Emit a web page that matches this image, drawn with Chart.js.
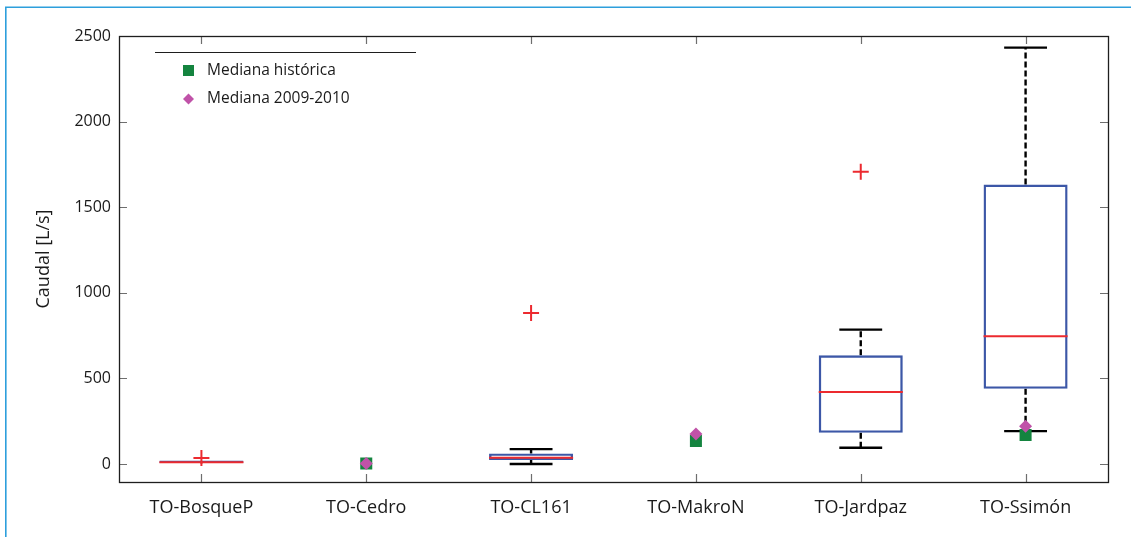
<!DOCTYPE html>
<html>
<head>
<meta charset="utf-8">
<title>Caudal por estación</title>
<script src="https://cdn.jsdelivr.net/npm/chart.js@4.4.1/dist/chart.umd.min.js"></script>
<style>
  html, body { margin: 0; padding: 0; background: #ffffff; }
  #wrap { width: 1131px; height: 537px; position: relative; }
</style>
</head>
<body>
<div id="wrap"><canvas id="c" width="1131" height="537"></canvas></div>
<script>
// Stations
const categories = ['TO-BosqueP', 'TO-Cedro', 'TO-CL161', 'TO-MakroN', 'TO-Jardpaz', 'TO-Ssimón'];

// Box statistics per station [L/s] (null = no box drawn)
const whiskerLow  = [4,    null, 0,    null, 95,   192];
const quartile1   = [6,    null, 23,   null, 182,  439];
const medianVals  = [10,   null, 37,   null, 420,  746];
const quartile3   = [20,   null, 62,   null, 635,  1632];
const whiskerHigh = [20,   null, 87,   null, 785,  2432];

// Outliers per station
const outlierStation = ['TO-BosqueP', 'TO-CL161', 'TO-Jardpaz'];
const outlierValue   = [35,           882,        1707];

// Reference medians
const medianHistorica = [null, 3, null, 134, null, 169];
const mediana20092010 = [null, 3, null, 175, null, 221];

// Y axis
const yTickValues = [0, 500, 1000, 1500, 2000, 2500];
const yMin = -105;
const yMax = 2500;

const FONT = "'Open Sans', 'DejaVu Sans', sans-serif";
const BOX_BLUE = '#3c57a7';
const MED_RED = '#ec2a2f';
const GREEN = '#14843f';
const PINK = '#c052a8';

const boxPlugin = {
  id: 'boxParts',
  beforeDraw(chart) {
    const ctx = chart.ctx;
    ctx.save();
    ctx.fillStyle = '#ffffff';
    ctx.fillRect(0, 0, chart.width, chart.height);
    // page frame
    ctx.strokeStyle = '#2d9fdc';
    ctx.lineWidth = 1.6;
    ctx.beginPath();
    ctx.moveTo(5.8, chart.height + 5);
    ctx.lineTo(5.8, 7.3);
    ctx.lineTo(chart.width + 5, 7.3);
    ctx.stroke();
    ctx.restore();
  },
  beforeDatasetsDraw(chart) {
    const ctx = chart.ctx;
    const x = chart.scales.x, y = chart.scales.y;
    const half = x.width / categories.length * 0.13;
    ctx.save();
    ctx.strokeStyle = '#000000';
    ctx.lineWidth = 2.4;
    categories.forEach((c, i) => {
      if (quartile1[i] === null) return;
      const cx = x.getPixelForValue(i);
      const yl = y.getPixelForValue(whiskerLow[i]);
      const yq1 = y.getPixelForValue(quartile1[i]);
      const yq3 = y.getPixelForValue(quartile3[i]);
      const yh = y.getPixelForValue(whiskerHigh[i]);
      ctx.setLineDash([6, 3]);
      ctx.beginPath();
      ctx.moveTo(cx, yq3); ctx.lineTo(cx, yh);
      ctx.moveTo(cx, yq1); ctx.lineTo(cx, yl);
      ctx.stroke();
      ctx.setLineDash([]);
      // caps only where the whisker leaves the box
      ctx.beginPath();
      if (whiskerHigh[i] - quartile3[i] > 5) { ctx.moveTo(cx - half, yh); ctx.lineTo(cx + half, yh); }
      if (quartile1[i] - whiskerLow[i] > 5) { ctx.moveTo(cx - half, yl); ctx.lineTo(cx + half, yl); }
      ctx.stroke();
    });
    ctx.restore();
  },
  afterDatasetDraw(chart, args) {
    if (args.index !== 0) return;
    const ctx = chart.ctx;
    const meta = args.meta;
    const y = chart.scales.y;
    ctx.save();
    ctx.strokeStyle = MED_RED;
    ctx.lineWidth = 2;
    meta.data.forEach((bar, i) => {
      if (medianVals[i] === null) return;
      const p = bar.getProps(['x', 'width'], true);
      const ym = y.getPixelForValue(medianVals[i]);
      ctx.beginPath();
      ctx.moveTo(p.x - p.width / 2, ym);
      ctx.lineTo(p.x + p.width / 2, ym);
      ctx.stroke();
    });
    ctx.restore();
  },
  afterDraw(chart) {
    const ctx = chart.ctx;
    const a = chart.chartArea;
    const x = chart.scales.x, y = chart.scales.y;
    ctx.save();
    // inward ticks
    ctx.strokeStyle = '#6e6e6e';
    ctx.lineWidth = 1.2;
    const tl = 8;
    ctx.beginPath();
    yTickValues.forEach(v => {
      const py = Math.round(y.getPixelForValue(v)) + 0.5;
      ctx.moveTo(a.left, py); ctx.lineTo(a.left + tl, py);
      ctx.moveTo(a.right, py); ctx.lineTo(a.right - tl, py);
    });
    categories.forEach((c, i) => {
      const px = Math.round(x.getPixelForValue(i)) + 0.5;
      ctx.moveTo(px, a.bottom); ctx.lineTo(px, a.bottom - tl);
      ctx.moveTo(px, a.top); ctx.lineTo(px, a.top + tl);
    });
    ctx.stroke();
    // axes frame
    ctx.strokeStyle = '#1e1e1e';
    ctx.lineWidth = 1.3;
    ctx.strokeRect(Math.round(a.left) + 0.5, Math.round(a.top) + 0.5,
                   Math.round(a.right - a.left), Math.round(a.bottom - a.top));

    // legend
    ctx.strokeStyle = '#1e1e1e';
    ctx.lineWidth = 1;
    ctx.beginPath();
    ctx.moveTo(155, 52.5); ctx.lineTo(416, 52.5);
    ctx.stroke();
    ctx.fillStyle = GREEN;
    ctx.fillRect(183, 65, 11, 11);
    ctx.fillStyle = PINK;
    ctx.beginPath();
    ctx.moveTo(188.5, 93.5); ctx.lineTo(194, 99); ctx.lineTo(188.5, 104.5); ctx.lineTo(183, 99);
    ctx.closePath(); ctx.fill();
    ctx.fillStyle = '#1a1a1a';
    ctx.font = '15.5px ' + FONT;
    ctx.textBaseline = 'middle';
    ctx.textAlign = 'left';
    ctx.fillText('Mediana histórica', 207, 71);
    ctx.fillText('Mediana 2009-2010', 207, 99);
    ctx.restore();
  }
};

const boxes = categories.map((c, i) => quartile1[i] === null ? null : [quartile1[i], quartile3[i]]);

new Chart(document.getElementById('c'), {
  type: 'bar',
  data: {
    labels: categories,
    datasets: [
      {
        label: 'Caudal',
        data: boxes,
        backgroundColor: 'rgba(0,0,0,0)',
        borderColor: BOX_BLUE,
        borderWidth: 2.4,
        borderSkipped: false,
        categoryPercentage: 1,
        barPercentage: 0.51,
        order: 3
      },
      {
        type: 'line',
        label: 'Mediana histórica',
        data: medianHistorica,
        showLine: false,
        pointStyle: 'rect',
        pointRadius: 8.5,
        pointBackgroundColor: GREEN,
        pointBorderColor: GREEN,
        pointBorderWidth: 0,
        order: 2
      },
      {
        type: 'line',
        label: 'Mediana 2009-2010',
        data: mediana20092010,
        showLine: false,
        pointStyle: 'rectRot',
        pointRadius: 6.5,
        pointBackgroundColor: PINK,
        pointBorderColor: PINK,
        pointBorderWidth: 0,
        order: 1
      },
      {
        type: 'line',
        label: 'Valores atípicos',
        data: outlierStation.map((s, i) => ({ x: s, y: outlierValue[i] })),
        showLine: false,
        pointStyle: 'cross',
        pointRadius: 8,
        pointBorderColor: MED_RED,
        pointBorderWidth: 2,
        order: 0
      }
    ]
  },
  options: {
    responsive: false,
    animation: false,
    devicePixelRatio: 1,
    events: [],
    layout: { padding: { left: 0, top: 36, right: 23, bottom: 0 } },
    plugins: { legend: { display: false }, tooltip: { enabled: false } },
    scales: {
      x: {
        type: 'category',
        offset: true,
        grid: { display: false },
        border: { display: false },
        ticks: { color: '#1a1a1a', font: { family: FONT, size: 18 }, padding: 7, maxRotation: 0 },
        afterFit(s) { s.height = 55; }
      },
      y: {
        min: yMin,
        max: yMax,
        grid: { display: false },
        border: { display: false },
        afterBuildTicks(s) { s.ticks = yTickValues.map(v => ({ value: v })); },
        ticks: {
          color: '#1a1a1a',
          font: { family: FONT, size: 16 },
          padding: 0,
          callback: v => String(v)
        },
        title: {
          display: true,
          text: 'Caudal [L/s]',
          color: '#1a1a1a',
          font: { family: FONT, size: 18 },
          padding: { top: 33, bottom: 0 }
        },
        afterFit(s) { s.width = 119; }
      }
    }
  },
  plugins: [boxPlugin]
});
</script>
</body>
</html>
